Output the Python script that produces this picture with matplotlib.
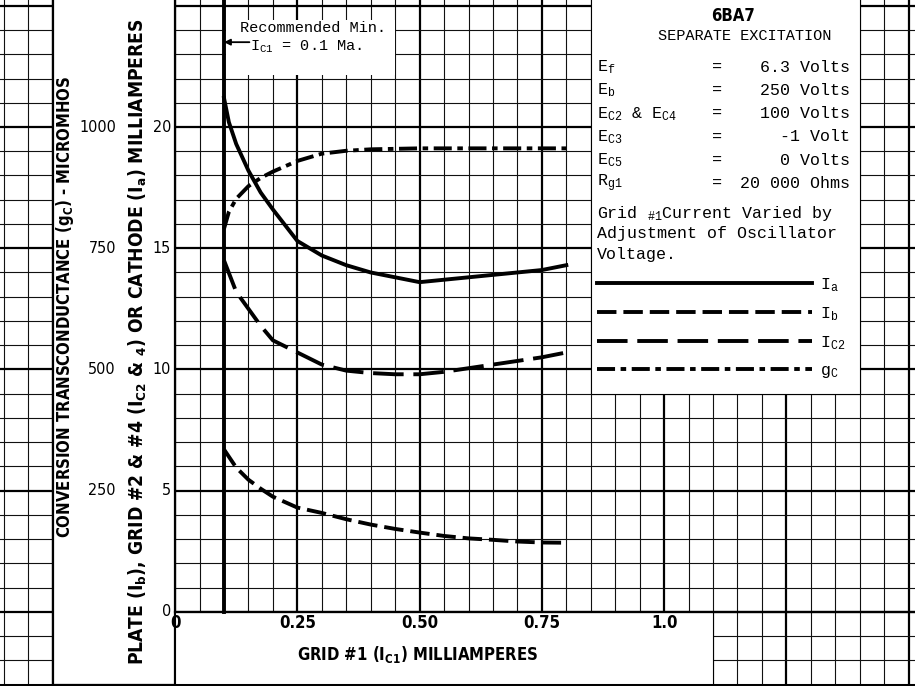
import matplotlib
matplotlib.use('Agg')
from matplotlib import pyplot as plt
from matplotlib.patches import Rectangle
from matplotlib.lines import Line2D
from matplotlib.ticker import MultipleLocator

plt.rcParams['mathtext.default'] = 'regular'
plt.rcParams['lines.scale_dashes'] = False

# 6BA7, separate excitation
# x is grid #1 current in mA for every curve
ia_x = [0.10, 0.11, 0.125, 0.15, 0.175, 0.20, 0.25, 0.30, 0.35, 0.40, 0.45, 0.50, 0.55, 0.60, 0.65, 0.70, 0.75, 0.80]
ia_ma = [21.2, 20.2, 19.3, 18.2, 17.3, 16.6, 15.3, 14.7, 14.3, 14.0, 13.8, 13.6, 13.7, 13.8, 13.9, 14.0, 14.1, 14.3]

ib_x = [0.10, 0.125, 0.15, 0.175, 0.20, 0.25, 0.30, 0.35, 0.40, 0.45, 0.50, 0.55, 0.60, 0.65, 0.70, 0.75, 0.80]
ib_ma = [6.7, 5.95, 5.45, 5.08, 4.75, 4.3, 4.08, 3.82, 3.6, 3.42, 3.27, 3.13, 3.03, 2.97, 2.9, 2.86, 2.85]

ic2_x = [0.10, 0.125, 0.15, 0.175, 0.20, 0.25, 0.30, 0.35, 0.40, 0.45, 0.50, 0.55, 0.60, 0.65, 0.70, 0.75, 0.80]
ic2_ma = [14.5, 13.2, 12.5, 11.8, 11.2, 10.7, 10.2, 9.95, 9.85, 9.8, 9.8, 9.9, 10.05, 10.2, 10.35, 10.5, 10.7]

gc_x = [0.10, 0.11, 0.125, 0.15, 0.175, 0.20, 0.25, 0.30, 0.35, 0.40, 0.50, 0.60, 0.70, 0.80]
gc_umhos = [790, 825, 852, 878, 895, 908, 930, 945, 951, 954, 956, 956, 956, 956]

x_ticks = [0, 0.25, 0.50, 0.75, 1.0]
x_tick_labels = ['0', '0.25', '0.50', '0.75', '1.0']
ma_ticks = [0, 5, 10, 15, 20]
gc_ticks = [250, 500, 750, 1000]
UMHOS_PER_MA = 50  # 1000 micromhos sits on the 20 mA line

min_ic1 = 0.1  # recommended minimum grid #1 current

conditions = [('E$_f$', '6.3 Volts'),
              ('E$_b$', '250 Volts'),
              ('E$_{C2}$ & E$_{C4}$', '100 Volts'),
              ('E$_{C3}$', '-1 Volt'),
              ('E$_{C5}$', '0 Volts'),
              ('R$_{g1}$', '20 000 Ohms')]
note_lines = [r'Grid $_{\#1}$Current Varied by', 'Adjustment of Oscillator', 'Voltage.']

series_labels = ['I$_a$', 'I$_b$', 'I$_{C2}$', 'g$_C$']

# fonts
bold_kw = dict(family='DejaVu Sans', fontweight='bold', fontstretch='condensed')
num_kw = dict(family='DejaVu Sans', fontstretch='condensed')
thin_kw = dict(family=['Liberation Mono', 'DejaVu Sans Mono'])

# line styles
sty_ia = dict(color='black', lw=2.8, ls='-')
sty_ib = dict(color='black', lw=2.8, dashes=(14, 5))
sty_ic2 = dict(color='black', lw=2.8, dashes=(22, 7))
sty_gc = dict(color='black', lw=2.8, dashes=(13, 4, 4, 4))

fig = plt.figure(figsize=(9.15, 6.86), dpi=100)
ax = fig.add_axes([0, 0, 1, 1])
xlo, xhi = -0.358, 1.513
ylo, yhi = -3.06, 25.24
ax.set_xlim(xlo, xhi)
ax.set_ylim(ylo, yhi)

# graph paper
ax.xaxis.set_major_locator(MultipleLocator(0.25))
ax.xaxis.set_minor_locator(MultipleLocator(0.05))
ax.yaxis.set_major_locator(MultipleLocator(5))
ax.yaxis.set_minor_locator(MultipleLocator(1))
ax.set_axisbelow(True)
ax.grid(which='major', color='black', lw=1.6)
ax.grid(which='minor', color='#111111', lw=0.8)
ax.tick_params(which='both', length=0, labelbottom=False, labelleft=False)
for s in ax.spines.values():
    s.set_visible(False)

# blank areas for the lettering
ax.add_patch(Rectangle((-0.25, -3), 0.25, 29, fc='white', ec='black', lw=1.6, zorder=1))
ax.add_patch(Rectangle((0, -3), 1.1, 3, fc='white', ec='black', lw=0.8, zorder=1))
ax.add_patch(Rectangle((0.85, 9), 0.55, 17, fc='white', ec='black', lw=0.8, zorder=1))
ax.add_patch(Rectangle((0.105, 22.15), 0.345, 2.25, fc='white', ec='none', zorder=1))

x0_frac = (0 - xlo) / (xhi - xlo)
y0_frac = (0 - ylo) / (yhi - ylo)
ax.axhline(0, xmin=x0_frac, xmax=1, color='black', lw=1.6, zorder=1.2)
ax.axhline(-3, color='black', lw=2.2, zorder=1.2)
ax.axvline(min_ic1, ymin=y0_frac, ymax=1, color='black', lw=2.8, zorder=1.2)

# curves
ax.plot(ia_x, ia_ma, zorder=3, **sty_ia)
ax.plot(ib_x, ib_ma, zorder=3, **sty_ib)
ax.plot(ic2_x, ic2_ma, zorder=3, **sty_ic2)
ax.plot(gc_x, [g / UMHOS_PER_MA for g in gc_umhos], zorder=3, **sty_gc)

# scales
for v, lab in zip(x_ticks, x_tick_labels):
    ax.text(v, -0.45, lab, ha='center', va='center', fontsize=12, zorder=4, **bold_kw)
for v in ma_ticks:
    ax.text(-0.008, v, str(v), ha='right', va='center', fontsize=11.5, zorder=4, **num_kw)
for v in gc_ticks:
    ax.text(-0.121, v / UMHOS_PER_MA, str(v), ha='right', va='center', fontsize=11.5, zorder=4, **num_kw)

ax.text(0.497, -1.77, r'GRID #1 (I$_{C1}$) MILLIAMPERES', ha='center', va='center',
        fontsize=12, zorder=4, **bold_kw)
ax.text(-0.225, 12.58, r'CONVERSION TRANSCONDUCTANCE (g$_C$) - MICROMHOS', rotation=90,
        ha='center', va='center', fontsize=12, zorder=4, **bold_kw)
ax.text(-0.076, 11.13, r'PLATE (I$_b$), GRID #2 & #4 (I$_{C2}$ & $_4$) OR CATHODE (I$_a$) MILLIAMPERES',
        rotation=90, ha='center', va='center', fontsize=13.8, zorder=4, **bold_kw)

# recommended minimum note
ax.text(0.133, 24.08, 'Recommended Min.', ha='left', va='center', fontsize=11, zorder=4, **thin_kw)
ax.text(0.153, 23.3, r'I$_{C1}$ = 0.1 Ma.', ha='left', va='center', fontsize=11, zorder=4, **thin_kw)
ax.annotate('', xy=(min_ic1, 23.5), xytext=(0.152, 23.5), zorder=4,
            arrowprops=dict(arrowstyle='-|>', color='black', lw=1.3, mutation_scale=9, shrinkA=0, shrinkB=0))

# data box
ax.text(1.141, 24.58, '6BA7', ha='center', va='center', fontsize=12, zorder=4, **bold_kw)
ax.text(1.164, 23.77, 'SEPARATE EXCITATION', ha='center', va='center', fontsize=11, zorder=4, **thin_kw)
for i, (name, val) in enumerate(conditions):
    yy = 22.47 - i * 0.96
    ax.text(0.863, yy, name, ha='left', va='center', fontsize=12, zorder=4, **thin_kw)
    ax.text(1.108, yy, '=', ha='center', va='center', fontsize=12, zorder=4, **thin_kw)
    ax.text(1.380, yy, val, ha='right', va='center', fontsize=12, zorder=4, **thin_kw)
for i, line in enumerate(note_lines):
    ax.text(0.863, 16.45 - i * 0.85, line, ha='left', va='center', fontsize=12, zorder=4, **thin_kw)

handles = [Line2D([], [], **sty_ia), Line2D([], [], **sty_ib),
           Line2D([], [], **sty_ic2), Line2D([], [], **sty_gc)]
ax.legend(handles, series_labels, loc='upper left', bbox_to_anchor=(0.863, 13.85),
          bbox_transform=ax.transData, frameon=False, borderpad=0, borderaxespad=0,
          handlelength=12.9, handletextpad=0.5, labelspacing=0.68,
          prop=dict(family='Liberation Mono', size=12))

fig.savefig('out.png', dpi=100)
